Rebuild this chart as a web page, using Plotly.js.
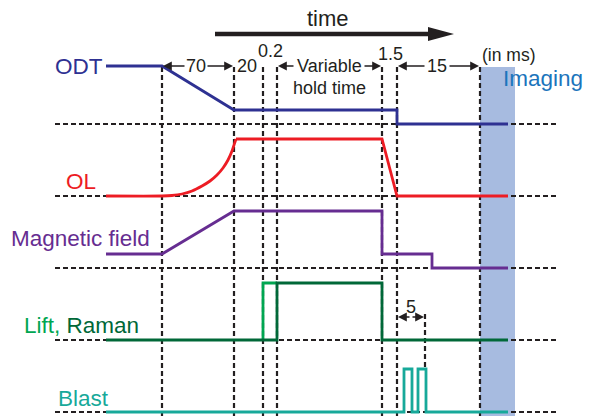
<!DOCTYPE html>
<html>
<head>
<meta charset="utf-8">
<script src="https://cdn.plot.ly/plotly-3.0.1.min.js"></script>
<style>
  html, body { margin: 0; padding: 0; background: #fff; }
  #chart { width: 594px; height: 416px; }
</style>
</head>
<body>
<div id="chart"></div>
<script>
// Experimental timing sequence, drawn on a schematic time axis (left -> right)
// and a stacked level axis (top -> bottom, one lane per channel).

// Event marker positions along the schematic time axis
const eventTimes = [162, 234, 263, 277, 382, 397, 480];
// Lane baselines (off levels) for each channel
const laneBaselines = [124, 196, 268, 340, 412];

// ODT: ramps down over 70 ms, switched off after hold
const odtT = [106, 162, 234, 397, 397, 508];
const odtY = [66, 66, 110, 110, 124, 124];

// OL: smooth ramp on (curved part), then hold and fast ramp off over 1.5 ms
const olRampT = [106, 162, 172, 182, 192, 202, 210, 217, 223, 228, 232, 235, 236];
const olRampY = [196, 196, 195.5, 194, 191, 186, 181, 175, 168, 160, 151, 142, 139];
const olHoldT = [236, 382, 397, 508];
const olHoldY = [139, 139, 196, 196];

// Magnetic field: linear ramp, step down, second step down
const magT = [106, 162, 234, 382, 382, 432, 432, 508];
const magY = [254, 254, 211, 211, 254, 254, 268, 268];

// Lift beam (on 0.2 ms early) and Raman beam
const liftT = [263, 263, 277];
const liftY = [340, 283, 283];
const ramanT = [106, 277, 277, 382, 382, 508];
const ramanY = [340, 340, 283, 283, 340, 340];

// Blast: two short pulses within 5 ms
const blastT = [106, 404, 404, 412, 412, 418, 418, 426, 426, 508];
const blastY = [412, 412, 369, 369, 412, 412, 369, 369, 412, 412];

// Imaging window
const imagingWindow = [480, 515];

// Channel labels
const channelNames = ['ODT', 'OL', 'Magnetic field', 'Lift, Raman', 'Blast'];

// Duration labels (ms)
const durationLabels = ['70', '20', '0.2', 'Variable', 'hold time', '1.5', '15', '5', '(in ms)'];

const DASH = '#231f20';
const FONT = 'Liberation Sans, Arial, Helvetica, sans-serif';

const colors = {
  odt: '#2e3192', ol: '#ed1c24', mag: '#662d91',
  lift: '#00a651', raman: '#006838', blast: '#17a99a',
  imaging: '#a7bbe0', imagingText: '#1c75bc'
};

function trace(x, y, color, shape) {
  return { x: x, y: y, mode: 'lines', type: 'scatter', hoverinfo: 'skip',
           line: { color: color, width: 2.8, shape: shape || 'linear', smoothing: 0.8 },
           showlegend: false };
}

const data = [
  trace(odtT, odtY, colors.odt),
  trace(olRampT, olRampY, colors.ol, 'spline'),
  trace(olHoldT, olHoldY, colors.ol),
  trace(magT, magY, colors.mag),
  trace(liftT, liftY, colors.lift),
  trace(ramanT, ramanY, colors.raman),
  trace(blastT, blastY, colors.blast)
];

const shapes = [];
// imaging window band
shapes.push({ type: 'rect', layer: 'below', xref: 'x', yref: 'y',
  x0: imagingWindow[0], x1: imagingWindow[1], y0: 67, y1: 416,
  fillcolor: colors.imaging, line: { width: 0 } });
// lane baselines
laneBaselines.forEach(function (y) {
  shapes.push({ type: 'line', layer: 'below', xref: 'x', yref: 'y',
    x0: 55, x1: 558, y0: y, y1: y,
    line: { color: DASH, width: 2.2, dash: '5px,3px' } });
});
// event markers
eventTimes.forEach(function (t) {
  shapes.push({ type: 'line', layer: 'below', xref: 'x', yref: 'y',
    x0: t, x1: t, y0: 67, y1: 416,
    line: { color: DASH, width: 2.2, dash: '5px,3px' } });
});
// end marker of the blast window
shapes.push({ type: 'line', layer: 'below', xref: 'x', yref: 'y',
  x0: 425, x1: 425, y0: 314, y1: 369,
  line: { color: DASH, width: 2.2, dash: '5px,3px' } });
// time arrow
shapes.push({ type: 'line', xref: 'x', yref: 'y', x0: 215, x1: 432, y0: 34, y1: 34,
  line: { color: '#231f20', width: 4.5 } });
shapes.push({ type: 'path', xref: 'x', yref: 'y', path: 'M 428 27 L 454 34 L 428 41 Z',
  fillcolor: '#231f20', line: { color: '#231f20', width: 0 } });

function text(x, y, t, size, color, anchor) {
  return { x: x, y: y, xref: 'x', yref: 'y', text: t, showarrow: false,
           xanchor: anchor || 'center', yanchor: 'middle',
           font: { family: FONT, size: size, color: color || '#231f20' } };
}
function arrow(xFrom, xTo, y) {
  return { x: xTo, y: y, ax: xFrom, ay: y, xref: 'x', yref: 'y', axref: 'x', ayref: 'y',
           text: '', showarrow: true, arrowhead: 2, arrowsize: 1.1, arrowwidth: 1.6,
           arrowcolor: '#231f20', standoff: 0, startstandoff: 0 };
}

const annotations = [
  text(328, 18, 'time', 22),
  text(105, 66, channelNames[0], 22.5, colors.odt, 'right'),
  text(98, 181, channelNames[1], 22.5, colors.ol, 'right'),
  text(152, 238, channelNames[2], 22.5, colors.mag, 'right'),
  text(141, 325, '<span style="color:' + colors.lift + '">Lift,</span> <span style="color:' + colors.raman + '">Raman</span>', 22.5, colors.raman, 'right'),
  text(83, 398, channelNames[4], 22.5, colors.blast),
  text(543, 78, 'Imaging', 22.5, colors.imagingText),

  text(196, 66, durationLabels[0], 18),
  arrow(186, 163, 66), arrow(206, 233, 66),
  text(247, 66, durationLabels[1], 18),
  text(270, 51, durationLabels[2], 18),
  text(329, 66, durationLabels[3], 18),
  text(329, 88, durationLabels[4], 18),
  arrow(295, 278, 66), arrow(363, 381, 66),
  text(390, 54, durationLabels[5], 18),
  text(437, 66, durationLabels[6], 18),
  arrow(426, 398, 66), arrow(448, 479, 66),
  text(411, 307, durationLabels[7], 18),
  arrow(411, 398, 317), arrow(411, 424, 317),
  text(508, 55, durationLabels[8], 17.5)
];

const layout = {
  width: 594, height: 416,
  margin: { l: 0, r: 0, t: 0, b: 0 },
  paper_bgcolor: '#ffffff', plot_bgcolor: '#ffffff',
  xaxis: { range: [0, 594], visible: false, fixedrange: true },
  yaxis: { range: [416, 0], visible: false, fixedrange: true },
  shapes: shapes,
  annotations: annotations,
  showlegend: false
};

Plotly.newPlot('chart', data, layout, { displayModeBar: false, staticPlot: true });
</script>
</body>
</html>
